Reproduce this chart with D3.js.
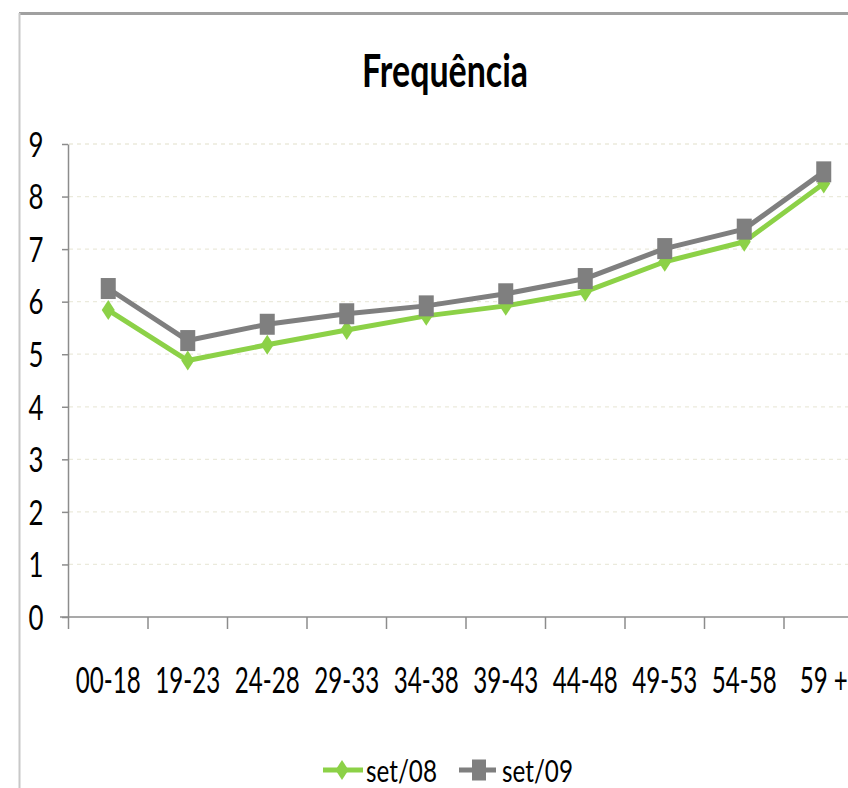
<!DOCTYPE html>
<html><head><meta charset="utf-8">
<script src="https://cdn.jsdelivr.net/npm/d3@7"></script>
<style>html,body{margin:0;padding:0;background:#fff;}svg{display:block;font-family:Lato,"Open Sans",sans-serif;}</style>
</head><body>
<svg id="chart" width="848" height="788"></svg>
<script>
const title = "Frequência";
const categories = ["00-18","19-23","24-28","29-33","34-38","39-43","44-48","49-53","54-58","59 +"];
const set08 = [5.84, 4.88, 5.18, 5.46, 5.73, 5.92, 6.19, 6.76, 7.14, 8.25];
const set09 = [6.25, 5.26, 5.57, 5.77, 5.92, 6.15, 6.44, 7.01, 7.38, 8.47];
const yTicks = [0,1,2,3,4,5,6,7,8,9];
const seriesNames = ["set/08","set/09"];

const svg = d3.select("#chart");
const W = 848, H = 788;
const green = "#8cd147", gray = "#7f7f7f";

svg.append("rect").attr("width",W).attr("height",H).attr("fill","#fff");
// frame
svg.append("line").attr("x1",19).attr("x2",W).attr("y1",13.5).attr("y2",13.5).attr("stroke","#a0a0a0").attr("stroke-width",3);
svg.append("line").attr("x1",19.5).attr("x2",19.5).attr("y1",13).attr("y2",H).attr("stroke","#c8c8c8").attr("stroke-width",2);

const x = d3.scaleBand().domain(categories).range([68.5, 863.5]).padding(0);
const y = d3.scaleLinear().domain([0,9]).range([617,144]);
const cx = d => x(d) + x.bandwidth()/2;

function condense(sel, ref, target){
  // compress glyphs horizontally like the reference
  let f = 1;
  sel.each(function(){ if (this.textContent === ref) f = target / this.getComputedTextLength(); });
  return f;
}

// gridlines
svg.append("g").selectAll("line").data(yTicks.filter(v=>v>0)).join("line")
  .attr("x1",69).attr("x2",W).attr("y1",d=>y(d)).attr("y2",d=>y(d))
  .attr("stroke","#ebeadc").attr("stroke-width",1.3).attr("stroke-dasharray","4,4");

// title
const t = svg.append("text").text(title).attr("font-weight","bold").attr("font-size",45).attr("text-anchor","middle").attr("fill","#000");
const tf = 166 / t.node().getComputedTextLength();
t.attr("transform",`translate(445,87) scale(${tf},1)`);

// y axis
const yAxis = svg.append("g").attr("transform","translate(68,0)")
  .call(d3.axisLeft(y).tickValues(yTicks).tickFormat(d3.format("d")).tickSize(6).tickSizeOuter(0));
yAxis.select(".domain").attr("stroke","#8c8c8c").attr("stroke-width",1.5);
yAxis.selectAll(".tick line").attr("stroke","#8c8c8c").attr("stroke-width",1.5);
const yt = yAxis.selectAll(".tick text").attr("font-size",34).attr("fill","#000").attr("font-family","Lato,'Open Sans',sans-serif");
const yf = condense(yt, "0", 15);
yt.attr("x",null).attr("dy","0.36em").attr("text-anchor","middle").attr("transform",`translate(-32,0) scale(${yf},1)`);

// x axis
const xAxis = svg.append("g").attr("transform","translate(0,617)")
  .call(d3.axisBottom(x).tickSize(0).tickSizeOuter(0));
xAxis.select(".domain").remove();
svg.append("line").attr("x1",60).attr("x2",W).attr("y1",617).attr("y2",617).attr("stroke","#8c8c8c").attr("stroke-width",1.5);
const bounds = categories.map(c=>x(c)).concat([x.range()[1]]);
svg.append("g").selectAll("line").data(bounds).join("line")
  .attr("x1",d=>d).attr("x2",d=>d).attr("y1",617).attr("y2",629)
  .attr("stroke","#8c8c8c").attr("stroke-width",1.5);
const xt = xAxis.selectAll(".tick text").attr("font-size",37).attr("fill","#000").attr("font-family","Lato,'Open Sans',sans-serif");
const xf = condense(xt, "00-18", 65);
xt.attr("y",null).attr("dy",null).attr("transform",`translate(0,76) scale(${xf},1)`);

// series
const line = d3.line().x((d,i)=>cx(categories[i])).y(d=>y(d));
const diamond = "M0,-10L6.5,0L0,10L-6.5,0Z";

const g8 = svg.append("g");
g8.append("path").datum(set08).attr("d",line).attr("fill","none").attr("stroke",green).attr("stroke-width",5).attr("stroke-linejoin","round");
g8.selectAll("path.m").data(set08).join("path").attr("class","m")
  .attr("d",diamond).attr("fill",green).attr("transform",(d,i)=>`translate(${cx(categories[i])},${y(d)})`);

const g9 = svg.append("g");
g9.append("path").datum(set09).attr("d",line).attr("fill","none").attr("stroke",gray).attr("stroke-width",5).attr("stroke-linejoin","round");
g9.selectAll("rect").data(set09).join("rect")
  .attr("x",(d,i)=>cx(categories[i])-7.5).attr("y",d=>y(d)-10.5).attr("width",15).attr("height",21).attr("fill",gray);

// legend
const lg = svg.append("g");
lg.append("line").attr("x1",323).attr("x2",363).attr("y1",770).attr("y2",770).attr("stroke",green).attr("stroke-width",5);
lg.append("path").attr("d",diamond).attr("fill",green).attr("transform","translate(342,770)");
lg.append("line").attr("x1",459).attr("x2",496).attr("y1",770).attr("y2",770).attr("stroke",gray).attr("stroke-width",5);
lg.append("rect").attr("x",472).attr("y",759.5).attr("width",14).attr("height",21).attr("fill",gray);
const lt = lg.selectAll("text").data(seriesNames).join("text").text(d=>d)
  .attr("font-size",30).attr("fill","#000");
const lf = condense(lt, "set/08", 71);
lt.attr("transform",(d,i)=>`translate(${i===0?366:502},782) scale(${lf},1)`);
</script>
</body></html>
